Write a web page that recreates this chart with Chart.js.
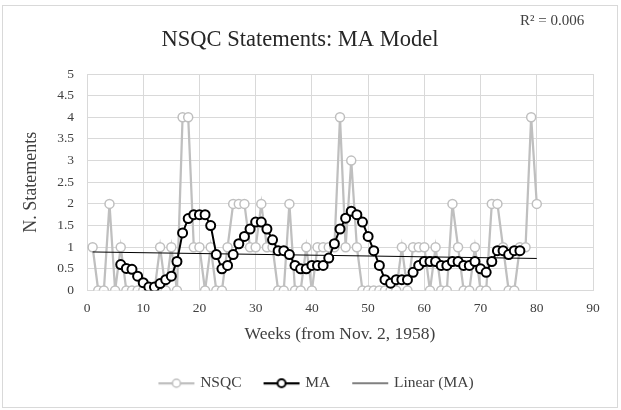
<!DOCTYPE html>
<html><head><meta charset="utf-8">
<script src="https://cdn.jsdelivr.net/npm/chart.js@4"></script>
<style>html,body{margin:0;padding:0;background:#fff;}#wrap{width:621px;height:410px;}</style>
</head><body><div id="wrap"><canvas id="c" width="621" height="410"></canvas></div>
<script>
// ---- data ----
const weeks = Array.from({length: 80}, (_, i) => i + 1);
const nsqc = [1,0,0,2,0,1,0,0,0,0, 0,0,1,0,1,0,4,4,1,1,
              0,1,0,0,1,2,2,2,1,1, 2,1,1,0,0,2,0,0,1,0,
              1,1,1,1,4,1,3,1,0,0, 0,0,0,0,0,1,0,1,1,1,
              0,1,0,0,2,1,0,0,1,0, 0,2,2,1,0,0,1,1,4,2];
const ma = [null,null,null,null,null,0.60,0.51,0.49,0.33,0.18,
            0.08,0.08,0.16,0.25,0.33,0.67,1.33,1.66,1.75,1.75,
            1.75,1.50,0.83,0.50,0.58,0.83,1.08,1.25,1.42,1.58,
            1.58,1.42,1.17,0.92,0.92,0.83,0.58,0.50,0.50,0.58,
            0.58,0.58,0.75,1.08,1.42,1.67,1.83,1.75,1.58,1.25,
            0.92,0.58,0.25,0.17,0.25,0.25,0.25,0.42,0.58,0.67,
            0.67,0.67,0.58,0.58,0.67,0.67,0.58,0.58,0.67,0.50,
            0.42,0.67,0.92,0.92,0.83,0.92,0.92,null,null,null];
const trendWeeks = [1, 80];
const trendValues = [0.89, 0.74];
const xTicks = [0,10,20,30,40,50,60,70,80,90];
const yTicks = [0,0.5,1,1.5,2,2.5,3,3.5,4,4.5,5];
const seriesNames = ['NSQC', 'MA', 'Linear (MA)'];
const chartTitle = 'NSQC Statements: MA Model';
const rSquared = 'R\u00B2 = 0.006';
const xTitle = 'Weeks (from Nov. 2, 1958)';
const yTitle = 'N. Statements';

const FONT = "'Liberation Serif','Times New Roman',serif";
const TXT = '#404040';
const GRID = '#d9d9d9';

function makeIcon(color, lw, marker, mw) {
  const c = document.createElement('canvas');
  c.width = 38; c.height = 12;
  const g = c.getContext('2d');
  g.strokeStyle = color; g.lineWidth = lw;
  g.beginPath(); g.moveTo(1, 6); g.lineTo(37, 6); g.stroke();
  if (marker) {
    g.beginPath(); g.arc(19, 6, 4, 0, Math.PI * 2);
    g.fillStyle = '#fff'; g.fill(); g.lineWidth = mw; g.stroke();
  }
  return c;
}
const icons = [makeIcon('#bfbfbf', 2.25, true, 1.5), makeIcon('#000', 2.25, true, 2), makeIcon('#000', 1, false, 0)];

const decor = {
  id: 'decor',
  beforeDraw(chart) {
    const g = chart.ctx;
    g.save();
    g.fillStyle = '#fff'; g.fillRect(0, 0, chart.width, chart.height);
    g.strokeStyle = GRID; g.lineWidth = 1;
    g.strokeRect(2.5, 5.5, 615, 402);
    g.restore();
  },
  afterDraw(chart) {
    const g = chart.ctx;
    g.save();
    g.fillStyle = '#262626';
    g.textAlign = 'center'; g.textBaseline = 'middle';
    g.font = '22.5px ' + FONT;
    g.fillText(chartTitle, 300, 40);
    g.font = '15px ' + FONT;
    g.fillStyle = TXT;
    g.textAlign = 'left';
    g.fillText(rSquared, 520, 21);
    g.restore();
  }
};

new Chart(document.getElementById('c'), {
  type: 'line',
  data: {
    datasets: [
      { label: seriesNames[0], data: weeks.map((w, i) => ({x: w, y: nsqc[i]})),
        borderColor: '#bfbfbf', borderWidth: 2.25, pointRadius: 4.5, pointBorderWidth: 1.5,
        pointBackgroundColor: '#fff', pointBorderColor: '#bfbfbf', tension: 0, order: 3 },
      { label: seriesNames[1], data: weeks.map((w, i) => ({x: w, y: ma[i]})),
        borderColor: '#000', borderWidth: 2, pointRadius: 4.5, pointBorderWidth: 2,
        pointBackgroundColor: '#fff', pointBorderColor: '#000', tension: 0, order: 1, spanGaps: false },
      { label: seriesNames[2], data: trendWeeks.map((w, i) => ({x: w, y: trendValues[i]})),
        borderColor: '#000', borderWidth: 1, pointRadius: 0, tension: 0, order: 2 }
    ]
  },
  options: {
    responsive: false, animation: false, devicePixelRatio: 1,
    layout: { padding: { top: 74, left: 41, right: 28, bottom: 9 } },
    plugins: {
      tooltip: { enabled: false },
      legend: {
        position: 'bottom',
        labels: {
          usePointStyle: true, pointStyleWidth: 32, boxHeight: 12, padding: 24,
          color: TXT, font: { family: FONT, size: 15.5 },
          generateLabels: (chart) => chart.data.datasets.map((ds, i) => ({
            text: ds.label, pointStyle: icons[i], fillStyle: 'rgba(0,0,0,0)',
            strokeStyle: 'rgba(0,0,0,0)', lineWidth: 0, hidden: false, datasetIndex: i, fontColor: TXT
          }))
        }
      }
    },
    scales: {
      x: {
        type: 'linear', min: 0, max: 90,
        afterBuildTicks: (s) => { s.ticks = xTicks.map(v => ({value: v})); },
        afterFit: (s) => { s.height = 61; },
        grid: { color: GRID, drawTicks: false },
        border: { color: GRID },
        ticks: { padding: 10, color: TXT, font: { family: FONT, size: 13.5 }, maxRotation: 0, callback: (v) => String(v) },
        title: { display: true, text: xTitle, color: TXT, font: { family: FONT, size: 17.5 }, padding: { top: 0, bottom: 7 } }
      },
      y: {
        min: 0, max: 5,
        afterBuildTicks: (s) => { s.ticks = yTicks.map(v => ({value: v})); },
        afterFit: (s) => { s.width = 46; },
        grid: { color: GRID, drawTicks: false },
        border: { color: GRID },
        ticks: { padding: 13, color: TXT, font: { family: FONT, size: 13.5 }, callback: (v) => String(v) },
        title: { display: true, text: yTitle, color: TXT, font: { family: FONT, size: 18 }, padding: { top: -21, bottom: 0 } }
      }
    }
  },
  plugins: [decor]
});
</script>
</body></html>
